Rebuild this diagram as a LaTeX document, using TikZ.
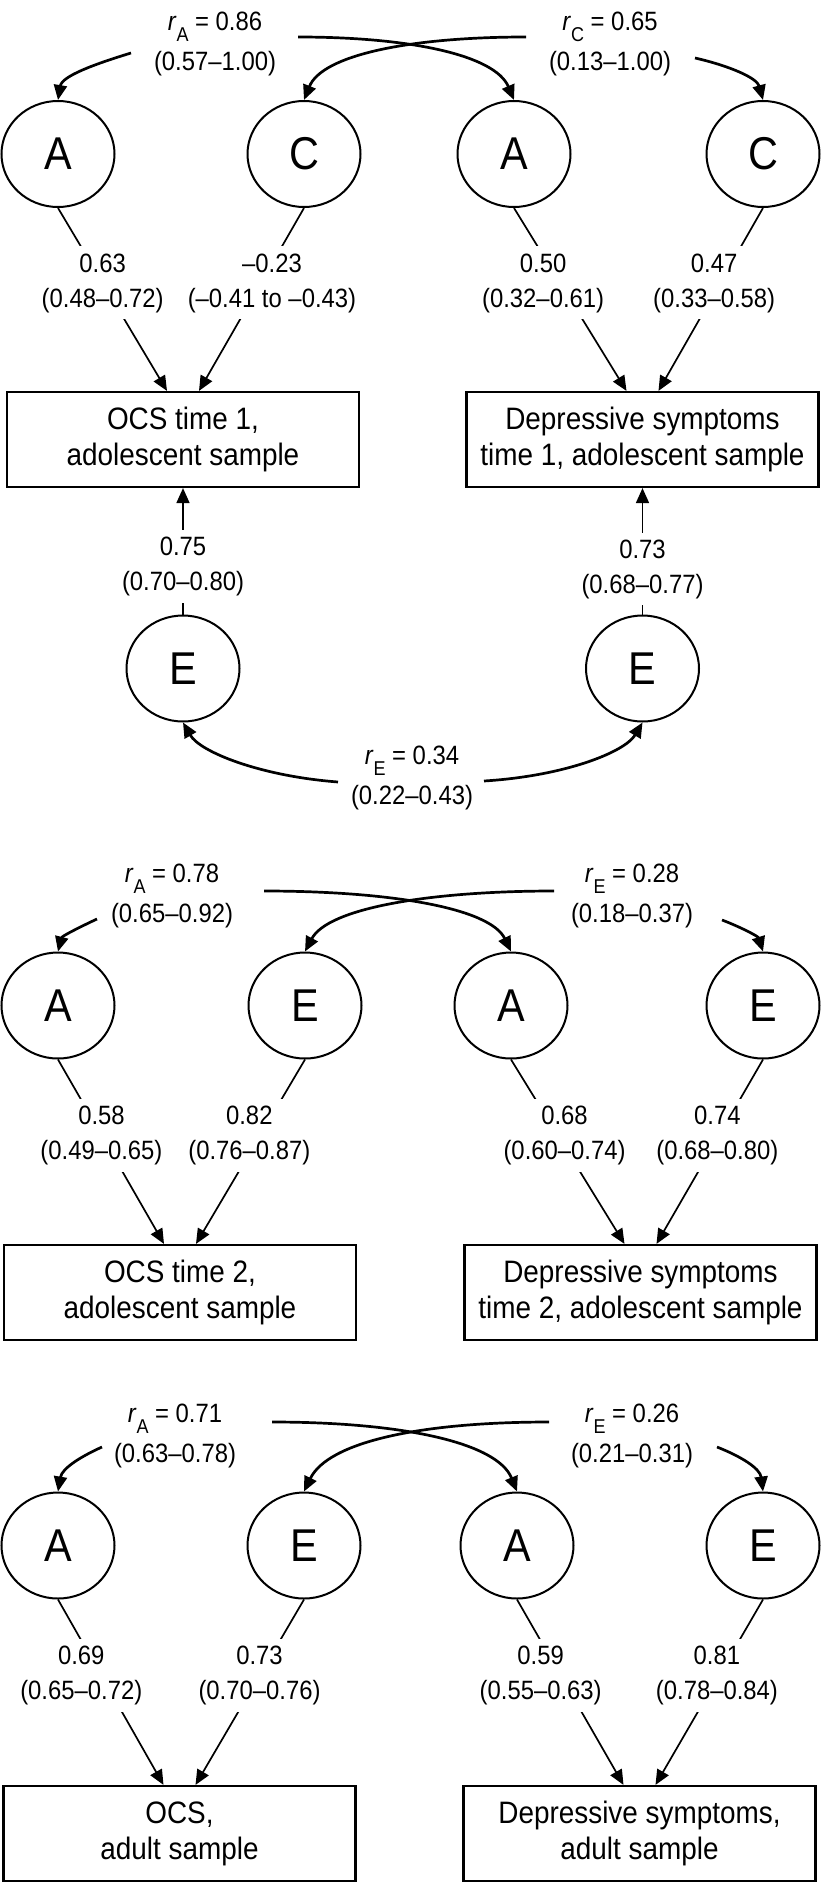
\documentclass[tikz,border=0pt]{standalone}
\usepackage{fontspec}
\setmainfont{Liberation Sans}[FakeStretch=0.9]
\usepackage{tikz}
\usetikzlibrary{arrows.meta,shapes.geometric}
\newcommand{\rcor}[1]{\textit{r}\raisebox{-5.5pt}{\fontsize{10}{10}\selectfont #1}}
\tikzset{
    latent/.style={ellipse,draw,line width=1pt,minimum width=56.5pt,minimum height=53pt,inner sep=0pt,font=\fontsize{23}{23}\selectfont},
    measure/.style={rectangle,draw,line width=1.1pt,minimum width=176pt,minimum height=47.5pt,align=center,font=\fontsize{15.5}{18}\selectfont},
    path label/.style={fill=white,align=center,inner xsep=1pt,inner ysep=3.5pt},
    cor label/.style={align=center},
    arr/.style={-{Triangle[length=7.5pt,width=6.5pt]},line width=0.85pt},
    cor arr/.style={arr,line width=1.35pt},
}
\tikzstyle{every node}=[font=\fontsize{13.25}{17.5}\selectfont]
\begin{document}
\begin{tikzpicture}[x=0.5pt,y=-0.5pt]
        \useasboundingbox (0,0) rectangle (820,1884);

        % adolescent sample, time 1
        \node[latent] (Aocs1) at (58,154) {A};
        \node[latent] (Cocs1) at (304,154) {C};
        \node[latent] (Adep1) at (514,154) {A};
        \node[latent] (Cdep1) at (763,154) {C};
        \node[measure] (ocsa) at (183,439.5) {OCS time 1,\\adolescent sample};
        \node[measure] (depa) at (642.5,439.5) {Depressive symptoms\\time 1, adolescent sample};
        \node[latent] (Eocs1) at (183,668.5) {E};
        \node[latent] (Edep1) at (642.5,668.5) {E};

        \node[cor label] (rA1) at (215,44) {\rcor{A} = 0.86\\[2.5pt](0.57--1.00)};
        \node[cor label] (rC1) at (610,44) {\rcor{C} = 0.65\\[2.5pt](0.13--1.00)};
        \node[cor label] (rE1) at (412,778) {\rcor{E} = 0.34\\[2.5pt](0.22--0.43)};
        \coordinate (ra1l) at (131,53);
        \coordinate (ra1r) at (298,37);
        \coordinate (rc1l) at (526,37);
        \coordinate (rc1r) at (695,58);
        \coordinate (re1l) at (338,782);
        \coordinate (re1r) at (484,781);
        \draw[cor arr] (ra1l) .. controls (95,64) and (62,76) .. (Aocs1.north);
        \draw[cor arr] (ra1r) .. controls (410,37) and (495,55) .. (Adep1.north);
        \draw[cor arr] (rc1l) .. controls (410,37) and (322,55) .. (Cocs1.north);
        \draw[cor arr] (rc1r) .. controls (730,66) and (757,78) .. (Cdep1.north);
        \draw[cor arr] (re1l) .. controls (260,776) and (200,752) .. (Eocs1.south);
        \draw[cor arr] (re1r) .. controls (565,776) and (625,752) .. (Edep1.south);

        \draw[arr] (Aocs1.south) -- ([xshift=-8pt]ocsa.north)
            node[path label,pos=.41] (pa1) {0.63\\(0.48--0.72)};
        \draw[arr] (Cocs1.south) -- ([xshift=8pt]ocsa.north)
            node[path label,pos=.41,xshift=5.5pt] (pc1) {--0.23\\(--0.41 to --0.43)};
        \draw[arr] (Adep1.south) -- ([xshift=-8pt]depa.north)
            node[path label,pos=.41,xshift=-8.5pt] (pa2) {0.50\\(0.32--0.61)};
        \draw[arr] (Cdep1.south) -- ([xshift=8pt]depa.north)
            node[path label,pos=.41,xshift=-3pt] (pc2) {0.47\\(0.33--0.58)};
        \draw[arr] (Eocs1.north) -- (ocsa.south)
            node[path label,pos=.38] (pe1) {0.75\\(0.70--0.80)};
        \draw[arr] (Edep1.north) -- (depa.south)
            node[path label,pos=.36] (pe2) {0.73\\(0.68--0.77)};

        % adolescent sample, time 2
        \node[latent] (Aocs2) at (58,1005.5) {A};
        \node[latent] (Eocs2) at (305,1005.5) {E};
        \node[latent] (Adep2) at (511,1005.5) {A};
        \node[latent] (Edep2) at (763,1005.5) {E};
        \node[measure] (ocsb) at (180,1292.5) {OCS time 2,\\adolescent sample};
        \node[measure] (depb) at (640.5,1292.5) {Depressive symptoms\\time 2, adolescent sample};

        \node[cor label] (rA2) at (172,896) {\rcor{A} = 0.78\\[2.5pt](0.65--0.92)};
        \node[cor label] (rE2) at (632,896) {\rcor{E} = 0.28\\[2.5pt](0.18--0.37)};
        \coordinate (ra2l) at (97,919);
        \coordinate (ra2r) at (264,891);
        \coordinate (re2l) at (554,891);
        \coordinate (re2r) at (722,920);
        \draw[cor arr] (ra2l) .. controls (82,926) and (62,936) .. (Aocs2.north);
        \draw[cor arr] (ra2r) .. controls (390,891) and (490,908) .. (Adep2.north);
        \draw[cor arr] (re2l) .. controls (430,891) and (328,908) .. (Eocs2.north);
        \draw[cor arr] (re2r) .. controls (738,926) and (758,936) .. (Edep2.north);

        \draw[arr] (Aocs2.south) -- ([xshift=-8pt]ocsb.north)
            node[path label,pos=.41] (pa3) {0.58\\(0.49--0.65)};
        \draw[arr] (Eocs2.south) -- ([xshift=8pt]ocsb.north)
            node[path label,pos=.41,xshift=-5.5pt] (pe3) {0.82\\(0.76--0.87)};
        \draw[arr] (Adep2.south) -- ([xshift=-8pt]depb.north)
            node[path label,pos=.41,xshift=3.5pt] (pa4) {0.68\\(0.60--0.74)};
        \draw[arr] (Edep2.south) -- ([xshift=8pt]depb.north)
            node[path label,pos=.41,xshift=-1pt] (pe4) {0.74\\(0.68--0.80)};

        % adult sample
        \node[latent] (Aocs3) at (58,1545.5) {A};
        \node[latent] (Eocs3) at (304,1545.5) {E};
        \node[latent] (Adep3) at (517,1545.5) {A};
        \node[latent] (Edep3) at (763,1545.5) {E};
        \node[measure] (ocsc) at (179.5,1833.5) {OCS,\\adult sample};
        \node[measure] (depc) at (639.5,1833.5) {Depressive symptoms,\\adult sample};

        \node[cor label] (rA3) at (175,1436) {\rcor{A} = 0.71\\[2.5pt](0.63--0.78)};
        \node[cor label] (rE3) at (632,1436) {\rcor{E} = 0.26\\[2.5pt](0.21--0.31)};
        \coordinate (ra3l) at (102,1447);
        \coordinate (ra3r) at (272,1422);
        \coordinate (re3l) at (549,1422);
        \coordinate (re3r) at (717,1447);
        \draw[cor arr] (ra3l) .. controls (82,1456) and (62,1468) .. (Aocs3.north);
        \draw[cor arr] (ra3r) .. controls (400,1422) and (497,1442) .. (Adep3.north);
        \draw[cor arr] (re3l) .. controls (420,1422) and (328,1442) .. (Eocs3.north);
        \draw[cor arr] (re3r) .. controls (740,1456) and (760,1468) .. (Edep3.north);

        \draw[arr] (Aocs3.south) -- ([xshift=-8pt]ocsc.north)
            node[path label,pos=.41,xshift=-10pt] (pa5) {0.69\\(0.65--0.72)};
        \draw[arr] (Eocs3.south) -- ([xshift=8pt]ocsc.north)
            node[path label,pos=.41] (pe5) {0.73\\(0.70--0.76)};
        \draw[arr] (Adep3.south) -- ([xshift=-8pt]depc.north)
            node[path label,pos=.41,xshift=-10pt] (pa6) {0.59\\(0.55--0.63)};
        \draw[arr] (Edep3.south) -- ([xshift=8pt]depc.north)
            node[path label,pos=.41,xshift=-1pt] (pe6) {0.81\\(0.78--0.84)};
\end{tikzpicture}
\end{document}
